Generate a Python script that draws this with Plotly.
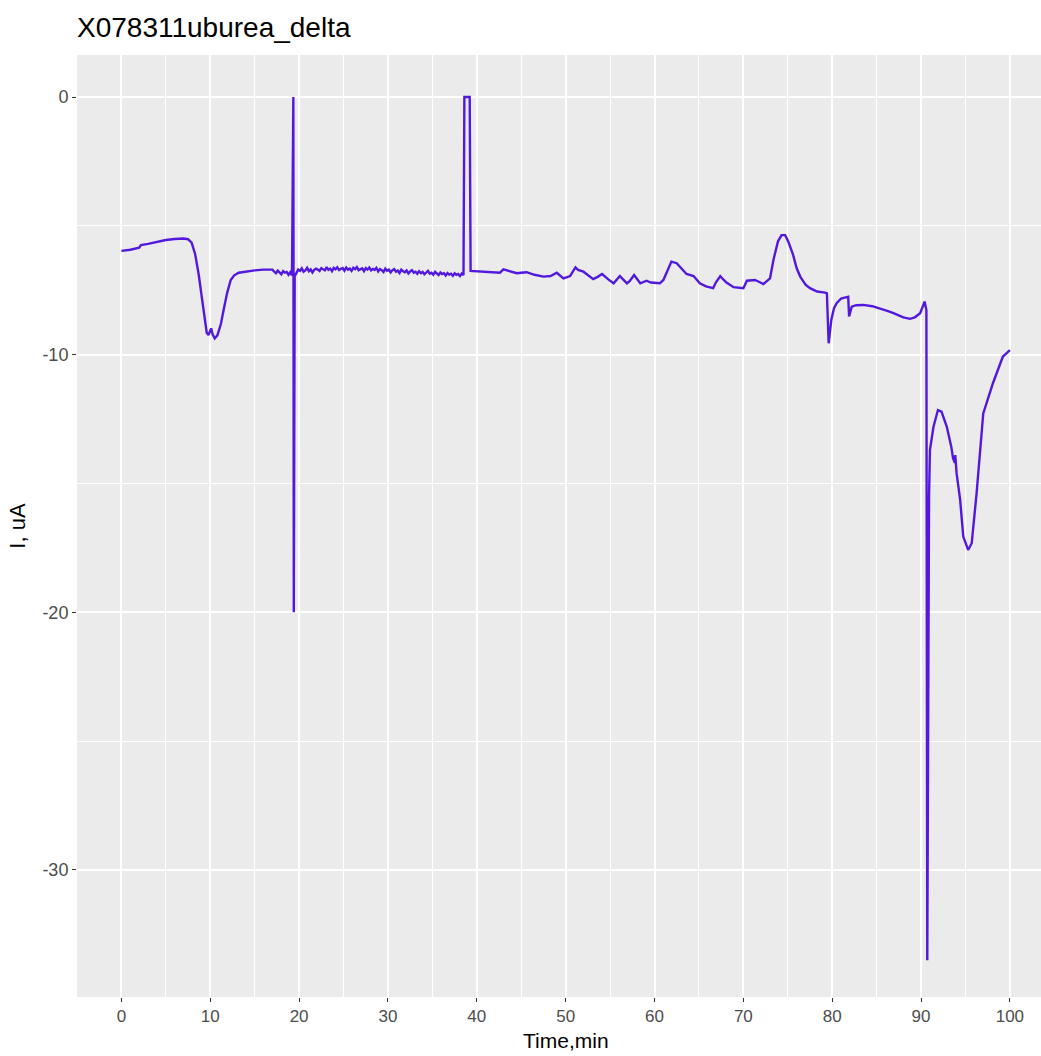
import plotly.graph_objects as go

# ---- data ----
time_start = [0, 1, 2, 2.2, 3, 4, 5, 6, 7, 7.5, 7.9, 8.3, 8.7, 9.1, 9.4, 9.6, 9.8, 10.0,
              10.1, 10.25, 10.5, 10.8, 11.2, 11.5, 11.9, 12.3, 12.7, 13.2, 14, 15, 16]
curr_start = [-5.97, -5.93, -5.85, -5.75, -5.70, -5.62, -5.55, -5.51, -5.49, -5.52, -5.65,
              -6.10, -6.90, -7.90, -8.80, -9.15, -9.24, -9.05, -8.98, -9.20, -9.37, -9.25,
              -8.80, -8.27, -7.60, -7.10, -6.92, -6.82, -6.77, -6.73, -6.70]

time_noise1 = [17.0, 17.2, 17.4, 17.6, 17.8, 18.0, 18.2, 18.4, 18.6, 18.8, 19.0, 19.2]
curr_noise1 = [-6.70, -6.78, -6.84, -6.74, -6.80, -6.88, -6.76, -6.82, -6.79, -6.90,
               -6.80, -6.93]

time_spike1 = [19.35, 19.40]
curr_spike1 = [0.0, -20.0]

time_noise2 = [19.5, 19.7, 19.9, 20.1, 20.3, 20.5, 20.7, 20.9, 21.1, 21.3,
               21.5, 21.7, 21.9, 22.1, 22.3, 22.5, 22.7, 22.9, 23.1, 23.3,
               23.5, 23.7, 23.9, 24.1, 24.3, 24.5, 24.7, 24.9, 25.1, 25.3,
               25.5, 25.7, 25.9, 26.1, 26.3, 26.5, 26.7, 26.9, 27.1, 27.3,
               27.5, 27.7, 27.9, 28.1, 28.3, 28.5, 28.7, 28.9, 29.1, 29.3,
               29.5, 29.7, 29.9, 30.1, 30.3, 30.5, 30.7, 30.9, 31.1, 31.3,
               31.5, 31.7, 31.9, 32.1, 32.3, 32.5, 32.7, 32.9, 33.1, 33.3,
               33.5, 33.7, 33.9, 34.1, 34.3, 34.5, 34.7, 34.9, 35.1, 35.3,
               35.5, 35.7, 35.9, 36.1, 36.3, 36.5, 36.7, 36.9, 37.1, 37.3,
               37.5, 37.7, 37.9, 38.1, 38.3, 38.5]
curr_noise2 = [-6.95, -6.80, -6.70, -6.75, -6.65, -6.78, -6.73, -6.63, -6.76, -6.69,
               -6.81, -6.71, -6.66, -6.70, -6.75, -6.64, -6.68, -6.73, -6.60, -6.71,
               -6.66, -6.76, -6.63, -6.69, -6.61, -6.72, -6.67, -6.64, -6.74, -6.62,
               -6.70, -6.66, -6.75, -6.63, -6.68, -6.60, -6.72, -6.69, -6.65, -6.76,
               -6.64, -6.70, -6.62, -6.73, -6.67, -6.71, -6.63, -6.77, -6.68, -6.72,
               -6.79, -6.66, -6.74, -6.70, -6.81, -6.72, -6.68, -6.78, -6.74, -6.83,
               -6.70, -6.76, -6.80, -6.73, -6.85, -6.77, -6.72, -6.82, -6.78, -6.86,
               -6.76, -6.84, -6.79, -6.88, -6.80, -6.75, -6.86, -6.82, -6.90, -6.79,
               -6.85, -6.91, -6.81, -6.87, -6.84, -6.93, -6.83, -6.89, -6.86, -6.94,
               -6.84, -6.90, -6.87, -6.95, -6.85, -6.91]

time_spike2 = [38.60, 39.20]
curr_spike2 = [0.0, 0.0]

time_end = [39.3, 40, 41, 42, 42.6, 43.0, 43.5, 44.5, 45.0, 45.6, 46.5, 47.5, 48.3, 49.0,
            49.75, 50.5, 51.1, 51.4, 52.0, 52.6, 53.1, 53.6, 54.1, 54.8, 55.4, 56.1, 56.9,
            57.2, 57.7, 58.4, 58.8, 59.1, 59.6, 60.6, 61.0, 61.5, 61.9, 62.5, 63.0, 63.6,
            64.4, 65.1, 65.8, 66.6, 66.9, 67.4, 67.8, 68.1, 68.9, 69.5, 70.0, 70.4, 71.3,
            71.8, 72.25, 73.0, 73.4, 73.9, 74.3, 74.7, 75.1, 75.6, 76.0, 76.4, 77.0, 77.5,
            78.3, 79.2, 79.4, 79.6, 79.9, 80.2, 80.5, 81.0, 81.8, 81.9, 82.2, 82.7, 83.5,
            84.5, 85.4, 86.2, 86.9, 88.0, 88.75, 89.3, 89.9, 90.4, 90.6, 90.7, 90.9, 91.0,
            91.4, 91.9, 92.3, 92.9, 93.4, 93.6, 93.8, 93.85, 94.0, 94.4, 94.75, 95.3, 95.7,
            96.25, 97.0, 98.1, 99.2, 100]
curr_end = [-6.75, -6.76, -6.77, -6.80, -6.82, -6.69, -6.74, -6.84, -6.82, -6.80, -6.90,
            -6.97, -6.95, -6.82, -7.04, -6.95, -6.61, -6.71, -6.78, -6.95, -7.07, -6.98,
            -6.87, -7.08, -7.23, -6.95, -7.23, -7.15, -6.91, -7.23, -7.18, -7.13, -7.20,
            -7.23, -7.10, -6.70, -6.39, -6.45, -6.65, -6.87, -6.95, -7.23, -7.35, -7.42,
            -7.20, -6.95, -7.10, -7.20, -7.38, -7.41, -7.42, -7.13, -7.10, -7.18, -7.26,
            -7.04, -6.30, -5.60, -5.36, -5.36, -5.65, -6.13, -6.65, -6.97, -7.28, -7.42,
            -7.55, -7.59, -7.62, -9.56, -8.65, -8.20, -8.00, -7.82, -7.75, -8.52, -8.14,
            -8.08, -8.07, -8.12, -8.20, -8.30, -8.39, -8.55, -8.61, -8.55, -8.39, -7.94,
            -8.27, -33.5, -15.5, -13.7, -12.8, -12.15, -12.21, -12.8, -13.57, -14.02,
            -14.2, -13.9, -14.6, -15.64, -17.06, -17.58, -17.32, -15.38, -12.28, -11.1,
            -10.08, -9.82]

time_min = time_start + time_noise1 + time_spike1 + time_noise2 + time_spike2 + time_end
current_uA = curr_start + curr_noise1 + curr_spike1 + curr_noise2 + curr_spike2 + curr_end

x_ticks = [0, 10, 20, 30, 40, 50, 60, 70, 80, 90, 100]
y_ticks = [0, -10, -20, -30]

# ---- figure ----
FONT = "Liberation Sans, Arial, Helvetica, sans-serif"
L, R, T, B = 77, 1041, 55, 997  # panel edges in pixels

fig = go.Figure()
fig.add_trace(go.Scatter(
    x=time_min, y=current_uA, mode="lines",
    line=dict(color="#5318DE", width=2.4),
    showlegend=False, hoverinfo="x+y",
))

fig.update_layout(
    width=1041, height=1056,
    margin=dict(l=L, r=1041 - R, t=T, b=1056 - B),
    paper_bgcolor="white",
    plot_bgcolor="#EBEBEB",
    font=dict(family=FONT, color="#4D4D4D"),
    title=dict(text="X078311uburea_delta", x=77 / 1041, xref="container", xanchor="left",
               y=1 - 27 / 1056, yref="container", yanchor="middle",
               font=dict(size=28, color="black", family=FONT)),
)

fig.update_xaxes(
    range=[-5, 103.5], tickvals=x_ticks, ticktext=[str(v) for v in x_ticks],
    showgrid=True, gridcolor="white", gridwidth=1.6, zeroline=False,
    minor=dict(dtick=5, tick0=0, showgrid=True, gridcolor="white", gridwidth=0.8,
               ticks=""),
    ticks="outside", ticklen=4, tickwidth=1.2, tickcolor="#333333",
    tickfont=dict(size=17, color="#4D4D4D"),
    showline=False,
)
fig.update_yaxes(
    range=[-34.93, 1.63], tickvals=y_ticks, ticktext=[str(v) for v in y_ticks],
    showgrid=True, gridcolor="white", gridwidth=1.6, zeroline=False,
    minor=dict(dtick=5, tick0=0, showgrid=True, gridcolor="white", gridwidth=0.8,
               ticks=""),
    ticks="outside", ticklen=4, tickwidth=1.2, tickcolor="#333333",
    tickfont=dict(size=18, color="#4D4D4D"),
    title=dict(text="I, uA", font=dict(size=22, color="black"), standoff=10),
    showline=False,
)

fig.add_annotation(
    text="Time,min", xref="paper", yref="paper",
    x=(566 - L) / (R - L), y=-(1054 - B) / (B - T),
    showarrow=False, font=dict(size=21, color="black", family=FONT),
    xanchor="center", yanchor="bottom",
)

fig.write_html("out.html")
